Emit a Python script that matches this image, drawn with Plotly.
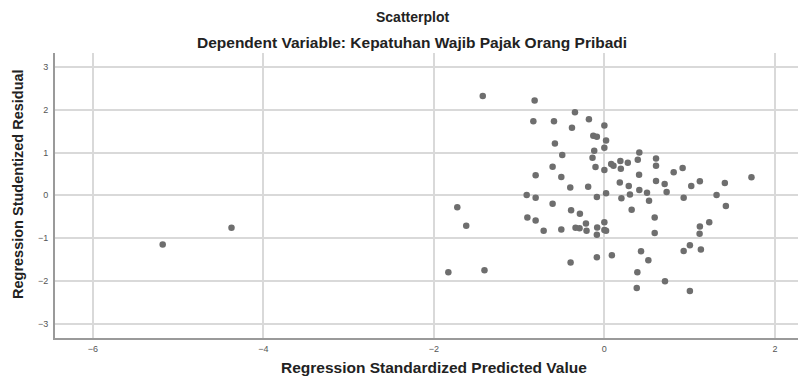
import plotly.graph_objects as go

# Regression standardized predicted values (x) and studentized residuals (y)
pred = [
    -5.18, -4.373, -1.426, -0.818, -0.345, -0.181, -0.833, -0.591, 0.0, -0.38,
    -0.13, -0.088, 0.02, -0.58, -0.119, 0.0, -0.494, -0.139, 0.08, 0.107,
    0.188, -0.607, -0.104, 0.0, -0.806, -0.505, -0.40, -0.19, 0.181, -0.911,
    -0.806, -0.088, 0.02, 0.20, -1.725, -0.607, -0.39, -0.287, -1.62, -0.903,
    -0.806, -0.216, 0.0, -0.712, -0.505, -0.338, -0.291, -0.209, -0.084, -0.088,
    0.0, 0.02, -0.396, -0.088, 0.088, -1.83, -1.406,
    0.41, 0.392, 0.606, 0.275, 0.193, 0.606, 0.918, 0.813, 0.407, 1.725,
    0.286, 0.606, 0.707, 1.12, 1.413, 1.019, 0.41, 0.50, 0.73, 0.30,
    0.524, 0.93, 1.316, 1.425, 0.32, 0.59, 1.12, 1.23, 0.59, 1.117,
    1.003, 0.93, 1.132, 0.43, 0.516, 0.387, 0.711, 0.38, 1.003,
]
resid = [
    -1.15, -0.76, 2.32, 2.22, 1.94, 1.78, 1.73, 1.73, 1.63, 1.58,
    1.39, 1.37, 1.28, 1.21, 1.04, 1.11, 0.94, 0.88, 0.73, 0.69,
    0.80, 0.67, 0.66, 0.59, 0.47, 0.43, 0.18, 0.20, 0.30, 0.01,
    -0.06, -0.04, 0.05, -0.07, -0.28, -0.20, -0.35, -0.43, -0.71, -0.52,
    -0.59, -0.66, -0.63, -0.83, -0.80, -0.76, -0.77, -0.83, -0.75, -0.92,
    -0.81, -0.83, -1.57, -1.45, -1.40, -1.80, -1.75,
    1.00, 0.83, 0.86, 0.76, 0.62, 0.69, 0.64, 0.54, 0.48, 0.42,
    0.22, 0.335, 0.265, 0.33, 0.29, 0.22, 0.124, 0.06, 0.077, 0.02,
    -0.126, -0.06, 0.007, -0.25, -0.34, -0.52, -0.73, -0.63, -0.88, -0.90,
    -1.17, -1.30, -1.27, -1.31, -1.52, -1.80, -2.01, -2.17, -2.24,
]

x_ticks = [-6, -4, -2, 0, 2]
y_ticks = [-3, -2, -1, 0, 1, 2, 3]

title = "Scatterplot"
subtitle = "Dependent Variable: Kepatuhan Wajib Pajak Orang Pribadi"
x_title = "Regression Standardized Predicted Value"
y_title = "Regression Studentized Residual"

FONT = "Liberation Sans, Arial, sans-serif"

fig = go.Figure()
fig.add_trace(go.Scatter(
    x=pred, y=resid, mode="markers",
    marker=dict(size=6.5, color="#6e6e6e", line=dict(width=0)),
    hoverinfo="x+y", showlegend=False,
))

W, H = 798, 376
L, R, T, B = 55, 0, 53, 38
pw = W - L - R
ph = H - T - B

def px_to_paper_x(px):
    return (px - L) / pw

def py_to_paper_y(py):
    return (H - B - py) / ph

fig.update_layout(
    width=W, height=H,
    margin=dict(l=L, r=R, t=T, b=B, pad=0),
    paper_bgcolor="white", plot_bgcolor="white",
    font=dict(family=FONT, color="#222222"),
    xaxis=dict(
        range=[-6.443, 2.271], tickvals=x_ticks, showgrid=True,
        gridcolor="#d9d9d9", gridwidth=1.5, zeroline=False,
        showline=True, linecolor="#9a9a9a", linewidth=2,
        ticks="", tickfont=dict(size=9, color="#555555", family=FONT),
        ticklabelstandoff=1,
    ),
    yaxis=dict(
        range=[-3.337, 3.328], tickvals=y_ticks, showgrid=True,
        gridcolor="#d9d9d9", gridwidth=1.5, zeroline=False,
        showline=True, linecolor="#9a9a9a", linewidth=2,
        ticks="", tickfont=dict(size=9, color="#555555", family=FONT),
        ticklabelstandoff=3,
    ),
    annotations=[
        dict(text="<b>" + title + "</b>", xref="paper", yref="paper",
             x=px_to_paper_x(412), y=py_to_paper_y(17), xanchor="center", yanchor="middle",
             showarrow=False, font=dict(size=14, color="#222222", family=FONT)),
        dict(text="<b>" + subtitle + "</b>", xref="paper", yref="paper",
             x=px_to_paper_x(412), y=py_to_paper_y(43), xanchor="center", yanchor="middle",
             showarrow=False, font=dict(size=15.5, color="#222222", family=FONT)),
        dict(text="<b>" + x_title + "</b>", xref="paper", yref="paper",
             x=px_to_paper_x(434), y=py_to_paper_y(367), xanchor="center", yanchor="middle",
             showarrow=False, font=dict(size=15.5, color="#222222", family=FONT)),
        dict(text="<b>" + y_title + "</b>", xref="paper", yref="paper",
             x=px_to_paper_x(18), y=py_to_paper_y(184), xanchor="center", yanchor="middle",
             textangle=-90,
             showarrow=False, font=dict(size=14.5, color="#222222", family=FONT)),
    ],
)

fig.write_html("out.html", config={"displayModeBar": False},
               post_script="document.body.style.margin='0';")
